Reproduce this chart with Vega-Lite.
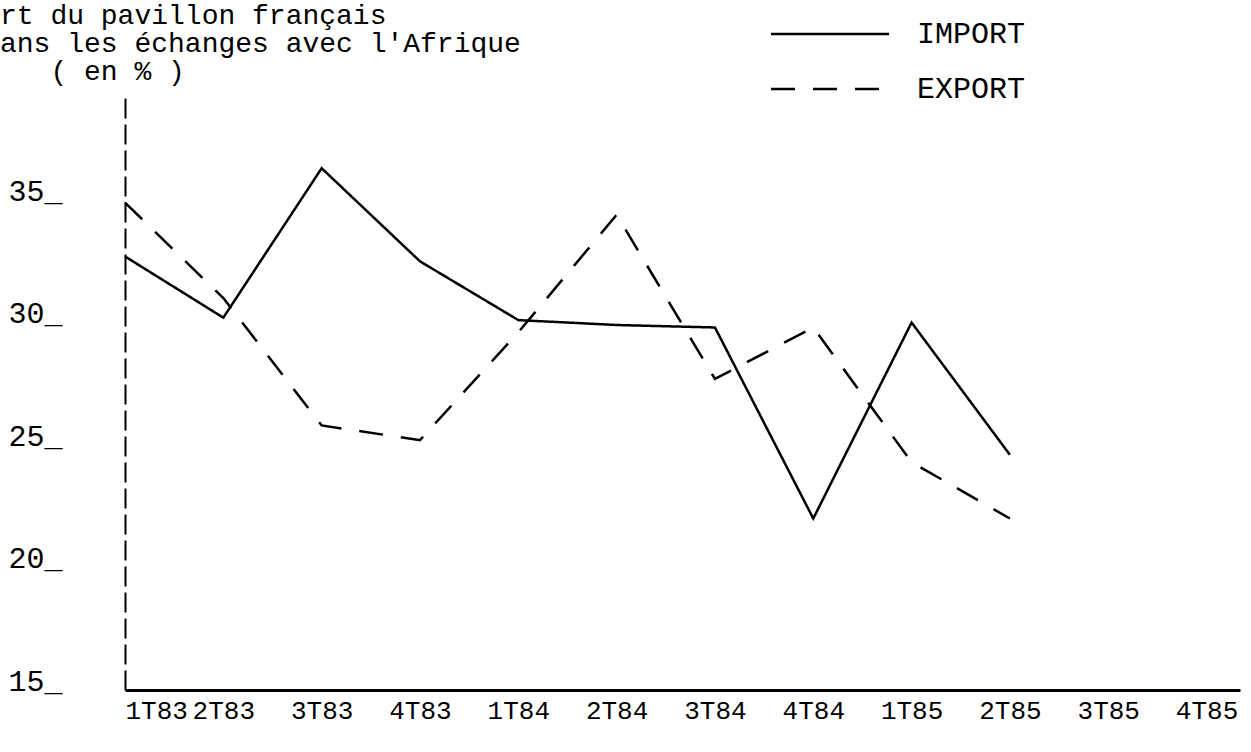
{
  "$schema": "https://vega.github.io/schema/vega-lite/v6.json",
  "autosize": {"type": "none"},
  "width": 1115,
  "height": 595,
  "padding": {"left": 125, "top": 95, "right": 11, "bottom": 62},
  "background": "white",
  "config": {
    "view": {"stroke": null},
    "font": "Liberation Mono"
  },
  "title": {
    "text": ["rt du pavillon français", "ans les échanges avec l'Afrique", "\u200b\u00a0\u00a0\u00a0( en % )"],
    "anchor": "start",
    "frame": "group",
    "orient": "top",
    "dx": -125,
    "dy": 76,
    "font": "Liberation Mono",
    "fontSize": 28,
    "fontWeight": "normal",
    "color": "black",
    "lineHeight": 28,
    "offset": 8
  },
  "data": {
    "values": [
      {"q": "1T83", "serie": "IMPORT", "v": 32.7},
      {"q": "2T83", "serie": "IMPORT", "v": 30.2},
      {"q": "3T83", "serie": "IMPORT", "v": 36.3},
      {"q": "4T83", "serie": "IMPORT", "v": 32.5},
      {"q": "1T84", "serie": "IMPORT", "v": 30.1},
      {"q": "2T84", "serie": "IMPORT", "v": 29.9},
      {"q": "3T84", "serie": "IMPORT", "v": 29.8},
      {"q": "4T84", "serie": "IMPORT", "v": 22.0},
      {"q": "1T85", "serie": "IMPORT", "v": 30.0},
      {"q": "2T85", "serie": "IMPORT", "v": 24.6},
      {"q": "1T83", "serie": "EXPORT", "v": 34.9},
      {"q": "2T83", "serie": "EXPORT", "v": 31.0},
      {"q": "3T83", "serie": "EXPORT", "v": 25.8},
      {"q": "4T83", "serie": "EXPORT", "v": 25.2},
      {"q": "1T84", "serie": "EXPORT", "v": 29.6},
      {"q": "2T84", "serie": "EXPORT", "v": 34.4},
      {"q": "3T84", "serie": "EXPORT", "v": 27.7},
      {"q": "4T84", "serie": "EXPORT", "v": 29.8},
      {"q": "1T85", "serie": "EXPORT", "v": 24.3},
      {"q": "2T85", "serie": "EXPORT", "v": 22.0}
    ]
  },
  "mark": {"type": "line", "color": "black", "strokeWidth": 2.5},
  "encoding": {
    "x": {
      "field": "q",
      "type": "ordinal",
      "sort": null,
      "scale": {
        "type": "point",
        "domain": ["1T83", "2T83", "3T83", "4T83", "1T84", "2T84", "3T84", "4T84", "1T85", "2T85", "3T85", "4T85"],
        "padding": 0.17,
        "align": 0
      },
      "axis": {
        "title": null,
        "ticks": false,
        "grid": false,
        "domainColor": "black",
        "domainWidth": 3,
        "labelAngle": 0,
        "labelFont": "Liberation Mono",
        "labelFontSize": 26,
        "labelColor": "black",
        "labelPadding": 7,
        "labelOverlap": false,
        "labelBound": false,
        "labelAlign": {"condition": {"test": "datum.value === '1T83'", "value": "left"}, "value": "center"}
      }
    },
    "y": {
      "field": "v",
      "type": "quantitative",
      "scale": {"domain": [15, 39.29], "nice": false, "zero": false},
      "axis": {
        "title": null,
        "values": [15, 20, 25, 30, 35],
        "labelExpr": "datum.label + '_'",
        "ticks": false,
        "grid": false,
        "domainColor": "black",
        "domainWidth": 2,
        "domainDash": [20, 6],
        "labelFont": "Liberation Mono",
        "labelFontSize": 30,
        "labelColor": "black",
        "labelPadding": 63,
        "labelBaseline": "alphabetic"
      }
    },
    "strokeDash": {
      "field": "serie",
      "type": "nominal",
      "scale": {"domain": ["IMPORT", "EXPORT"], "range": [[1, 0], [24, 18]]},
      "legend": {
        "title": null,
        "orient": "none",
        "legendX": 689,
        "legendY": -77,
        "padding": 0,
        "symbolType": "M-4,0H4",
        "symbolSize": 870,
        "symbolStrokeWidth": 2.5,
        "symbolStrokeColor": "black",
        "symbolFillColor": "transparent",
        "labelFont": "Liberation Mono",
        "labelFontSize": 30,
        "labelColor": "black",
        "labelOffset": 71,
        "rowPadding": 24
      }
    }
  }
}
